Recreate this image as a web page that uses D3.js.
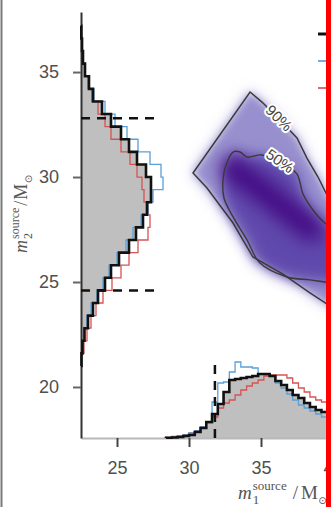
<!DOCTYPE html>
<html>
<head>
<meta charset="utf-8">
<script src="https://cdn.jsdelivr.net/npm/d3@7"></script>
<style>
  html, body { margin: 0; padding: 0; background: #fff; }
  svg { display: block; }
  .tick text { font-family: "Liberation Sans", Arial, Helvetica, sans-serif; font-size: 18px; fill: #505050; }
  .mathlabel text { font-family: "Liberation Serif", "DejaVu Serif", serif; fill: #555; }
</style>
</head>
<body>
<svg id="chart" width="331" height="507"></svg>
<script>
// ---------------- data ----------------
const seriesNames = ["Overall", "IMRPhenom", "EOBNR"];

// Secondary-mass marginal posterior, samples per bin
const m2BinStart = 21.0;
const m2BinWidth = 0.6;
const m2Overall   = [5, 15, 35, 70, 120, 170, 240, 300, 380, 480, 550, 620, 660, 700, 700, 650, 560, 480, 400, 300, 210, 120, 80, 40, 20, 10, 3];
const m2IMRPhenom = [10, 20, 30, 60, 100, 160, 220, 280, 360, 450, 520, 600, 670, 720, 820, 800, 690, 570, 460, 340, 240, 130, 80, 40, 20, 15, 5];
const m2EOBNR     = [10, 30, 60, 100, 150, 220, 310, 400, 480, 570, 670, 690, 670, 630, 610, 560, 490, 400, 300, 240, 170, 110, 70, 35, 20, 10, 3];

// Primary-mass marginal posterior, samples per bin
const m1BinStart = 28.4;
const m1BinWidth = 0.4;
const m1Overall   = [2, 5, 10, 20, 30, 60, 100, 160, 240, 340, 460, 580, 590, 600, 610, 620, 640, 640, 620, 570, 530, 480, 430, 400, 350, 310, 280, 260, 250, 240];
const m1IMRPhenom = [2, 8, 15, 30, 50, 70, 110, 150, 360, 550, 560, 660, 760, 710, 710, 700, 640, 640, 620, 550, 500, 440, 380, 330, 300, 270, 240, 210, 200, 190];
const m1EOBNR     = [5, 15, 20, 30, 50, 70, 110, 160, 210, 300, 350, 380, 430, 480, 520, 550, 580, 620, 630, 630, 630, 600, 550, 500, 460, 410, 380, 360, 350, 340];

// 90% credible bounds of the marginals
const m1Bounds = [31.8];
const m2Bounds = [24.6, 32.8];

// Joint posterior credible regions, [m1, m2]
const region90 = [
  [30.28, 30.19], [34.24, 34.05], [35.07, 33.57], [35.97, 32.95], [37.5, 31.86],
  [38.19, 30.90], [38.96, 30.0], [39.58, 29.14], [40.83, 27.86],
  [40.83, 23.57], [39.58, 23.95], [38.40, 24.48], [36.53, 25.38], [35.28, 25.86],
  [34.44, 26.19], [33.75, 27.0], [33.06, 27.81], [31.25, 29.48]
];
const region50 = [
  [33.06, 31.19], [32.57, 30.57], [32.36, 29.86], [32.43, 29.0], [33.06, 28.10],
  [34.03, 27.0], [34.93, 25.90], [36.81, 25.24], [38.40, 25.10], [39.44, 25.0], [40.83, 24.86],
  [40.83, 27.24], [39.44, 27.81], [38.61, 28.43], [37.92, 29.19], [37.5, 30.14],
  [36.67, 30.57], [35.07, 31.05], [34.03, 30.95], [33.54, 31.19]
];
// Ridge of highest joint density, [m1, m2]
const densityRidge = [[33.0, 30.4], [35.0, 29.4], [36.8, 28.4], [38.5, 27.5]];

const contourLabels = [
  { text: "90%", m1: 36.25, m2: 32.81 },
  { text: "50%", m1: 36.32, m2: 30.76 }
];

const xTicks = [25, 30, 35, 40];
const yTicks = [20, 25, 30, 35];

// ---------------- setup ----------------
const W = 331, H = 507;
const svg = d3.select("#chart");

const x = d3.scaleLinear().domain([22.5, 40]).range([81, 333]);
const y = d3.scaleLinear().domain([17.57, 37.86]).range([438, 12]);

// histogram heights (samples per bin -> pixels away from the axis)
const hx = d3.scaleLinear().domain([0, 1000]).range([x.range()[0], x.range()[0] + 100]);
const hy = d3.scaleLinear().domain([0, 1000]).range([y.range()[0], y.range()[0] - 100]);
const boundMarkerLength = 770;

const colors = { Overall: "#111", IMRPhenom: "#5b9fd8", EOBNR: "#d65353" };
const widths = { Overall: 2.6, IMRPhenom: 1.3, EOBNR: 1.3 };

const defs = svg.append("defs");
defs.append("clipPath").attr("id", "plotClip")
  .append("rect").attr("x", 0).attr("y", 0).attr("width", 326).attr("height", H);
[["blurHaze", 8], ["blurMid", 4], ["blurInner", 7], ["blurCore", 9]].forEach(([id, s]) => {
  defs.append("filter").attr("id", id)
    .attr("x", "-50%").attr("y", "-50%").attr("width", "200%").attr("height", "200%")
    .append("feGaussianBlur").attr("stdDeviation", s);
});

const root = svg.append("g").attr("clip-path", "url(#plotClip)");

// ---------------- joint density ----------------
const regionLine = d3.line().x(d => x(d[0])).y(d => y(d[1]));
const joint = root.append("g");

joint.append("path").attr("d", regionLine.curve(d3.curveLinearClosed)(region90))
  .attr("fill", "#cfcbe8").attr("filter", "url(#blurHaze)");
joint.append("path").attr("d", regionLine.curve(d3.curveLinearClosed)(region90))
  .attr("fill", "#9890ce").attr("filter", "url(#blurMid)");
joint.append("path").attr("d", regionLine.curve(d3.curveCatmullRomClosed.alpha(0.5))(region50))
  .attr("fill", "#6049ac").attr("filter", "url(#blurInner)");
joint.append("path").attr("d", regionLine.curve(d3.curveCatmullRom.alpha(0.5))(densityRidge))
  .attr("fill", "none").attr("stroke", "#3f007d").attr("stroke-width", 24)
  .attr("stroke-linecap", "round").attr("stroke-linejoin", "round")
  .attr("opacity", 0.85).attr("filter", "url(#blurCore)");

joint.append("path").attr("d", regionLine.curve(d3.curveLinearClosed)(region90))
  .attr("fill", "none").attr("stroke", "#3a3a3a").attr("stroke-width", 1.5);
joint.append("path").attr("d", regionLine.curve(d3.curveCatmullRomClosed.alpha(0.5))(region50))
  .attr("fill", "none").attr("stroke", "#3a3a3a").attr("stroke-width", 1.4);

const labelAngles = { "90%": 44, "50%": 35 };
joint.selectAll("text.clabel").data(contourLabels).join("text")
  .attr("class", "clabel")
  .attr("transform", d => `translate(${x(d.m1)},${y(d.m2)}) rotate(${labelAngles[d.text]})`)
  .attr("text-anchor", "middle").attr("dy", "0.35em")
  .style("font-family", "'Liberation Sans', Arial, sans-serif")
  .style("font-size", "15px")
  .style("fill", "#444")
  .style("stroke", "#fff").style("stroke-width", 4).style("stroke-linejoin", "round")
  .style("paint-order", "stroke")
  .text(d => d.text);

// ---------------- marginal histograms ----------------
function stepPoints(start, width, counts) {
  const pts = [[start, 0]];
  counts.forEach((c, i) => {
    pts.push([start + i * width, c], [start + (i + 1) * width, c]);
  });
  pts.push([start + counts.length * width, 0]);
  return pts;
}

const m2Line = d3.line().x(d => hx(d[1])).y(d => y(d[0]));
const m1Line = d3.line().x(d => x(d[0])).y(d => hy(d[1]));

const m2Series = { Overall: m2Overall, IMRPhenom: m2IMRPhenom, EOBNR: m2EOBNR };
const m1Series = { Overall: m1Overall, IMRPhenom: m1IMRPhenom, EOBNR: m1EOBNR };

// filled overall posteriors
root.append("path").attr("d", m2Line(stepPoints(m2BinStart, m2BinWidth, m2Overall)) + "Z")
  .attr("fill", "#bfbfbf");
root.append("path").attr("d", m1Line(stepPoints(m1BinStart, m1BinWidth, m1Overall)) + "Z")
  .attr("fill", "#bfbfbf");

// ---------------- axes ----------------
const xAxis = root.append("g").attr("transform", `translate(0,${y.range()[0]})`)
  .call(d3.axisBottom(x).tickValues(xTicks).tickSize(9).tickPadding(14).tickSizeOuter(0));
xAxis.select(".domain").attr("stroke", "#b8b8b8").attr("stroke-width", 2);
xAxis.selectAll(".tick line").attr("stroke", "#444").attr("stroke-width", 2);

const yAxis = root.append("g").attr("transform", `translate(${x.range()[0]},0)`)
  .call(d3.axisLeft(y).tickValues(yTicks).tickSize(8).tickPadding(14).tickSizeOuter(0));
yAxis.select(".domain").attr("stroke", "#333").attr("stroke-width", 2);
yAxis.selectAll(".tick line").attr("stroke", "#666").attr("stroke-width", 2);

// step outlines, drawn back to front
["EOBNR", "IMRPhenom", "Overall"].forEach(name => {
  root.append("path").attr("d", m2Line(stepPoints(m2BinStart, m2BinWidth, m2Series[name])))
    .attr("fill", "none").attr("stroke", colors[name]).attr("stroke-width", widths[name])
    .attr("stroke-linejoin", "miter");
  root.append("path").attr("d", m1Line(stepPoints(m1BinStart, m1BinWidth, m1Series[name])))
    .attr("fill", "none").attr("stroke", colors[name]).attr("stroke-width", widths[name])
    .attr("stroke-linejoin", "miter");
});

// credible bounds
root.selectAll("line.m2bound").data(m2Bounds).join("line").attr("class", "m2bound")
  .attr("x1", hx(0)).attr("x2", hx(boundMarkerLength))
  .attr("y1", d => y(d)).attr("y2", d => y(d))
  .attr("stroke", "#111").attr("stroke-width", 2.5).attr("stroke-dasharray", "9,7");
root.selectAll("line.m1bound").data(m1Bounds).join("line").attr("class", "m1bound")
  .attr("x1", d => x(d)).attr("x2", d => x(d))
  .attr("y1", hy(0)).attr("y2", hy(boundMarkerLength))
  .attr("stroke", "#111").attr("stroke-width", 2.5).attr("stroke-dasharray", "9,7");

// ---------------- axis titles ----------------
function mathLabel(parent, sub, base, gap) {
  const small = Math.round(base * 0.66);
  let cx = 0;
  const m = parent.append("text").attr("x", cx).attr("y", 0)
    .style("font-style", "italic").style("font-size", base + "px").text("m");
  cx += m.node().getComputedTextLength() + 1;
  const sup = parent.append("text").attr("x", cx).attr("y", -base * 0.45)
    .style("font-size", small + "px").text("source");
  const sb = parent.append("text").attr("x", cx).attr("y", base * 0.28)
    .style("font-size", small + "px").text(sub);
  cx += Math.max(sup.node().getComputedTextLength(), sb.node().getComputedTextLength()) + gap;
  const slash = parent.append("text").attr("x", cx).attr("y", 0)
    .style("font-size", base + "px").text("/");
  cx += slash.node().getComputedTextLength() + gap * 0.5;
  const mm = parent.append("text").attr("x", cx).attr("y", 0)
    .style("font-size", base + "px").text("M");
  cx += mm.node().getComputedTextLength() + 0.5;
  parent.append("text").attr("x", cx).attr("y", base * 0.28)
    .style("font-family", "'DejaVu Sans', sans-serif")
    .style("font-size", Math.round(base * 0.55) + "px").text("\u2299");
}

const xTitle = svg.append("g").attr("class", "mathlabel").attr("transform", "translate(238,499)");
mathLabel(xTitle, "1", 19, 6);
const yTitle = svg.append("g").attr("class", "mathlabel").attr("transform", "translate(27,253) rotate(-90)");
mathLabel(yTitle, "2", 18, 2);

// ---------------- legend handles ----------------
const legendY = d3.scalePoint().domain(seriesNames).range([34, 88]);
svg.selectAll("line.legend").data(seriesNames).join("line").attr("class", "legend")
  .attr("x1", 318).attr("x2", 340)
  .attr("y1", d => legendY(d)).attr("y2", d => legendY(d))
  .attr("stroke", d => colors[d]).attr("stroke-width", d => widths[d] + 0.4);

// ---------------- frame ----------------
svg.append("rect").attr("x", 0.5).attr("y", 0).attr("width", 2).attr("height", H).attr("fill", "#7a7a7a");
svg.append("rect").attr("x", 326).attr("y", 0).attr("width", 5).attr("height", H).attr("fill", "#ff0000");
</script>
</body>
</html>
